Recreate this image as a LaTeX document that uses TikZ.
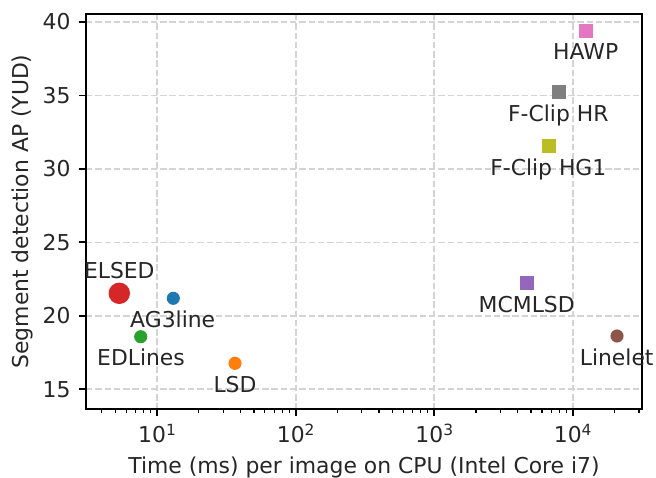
\documentclass[tikz,border=0pt]{standalone}
\usepackage{fontspec}
\setmainfont{DejaVu Sans}
\definecolor{tabblue}{HTML}{1F77B4}
\definecolor{taborange}{HTML}{FF7F0E}
\definecolor{tabgreen}{HTML}{2CA02C}
\definecolor{tabred}{HTML}{D62728}
\definecolor{tabpurple}{HTML}{9467BD}
\definecolor{tabbrown}{HTML}{8C564B}
\definecolor{tabpink}{HTML}{E377C2}
\definecolor{tabgray}{HTML}{7F7F7F}
\definecolor{tabolive}{HTML}{BCBD22}
\definecolor{gridc}{HTML}{D4D4D4}
\begin{document}
\begin{tikzpicture}[x=0.48pt,y=-0.48pt,
  font=\fontsize{10.5}{12.6}\selectfont,
  gridline/.style={draw=gridc,line width=0.8pt,dash pattern=on 3.1pt off 1.35pt},
  frame/.style={draw=black,line width=0.85pt},
  majtick/.style={draw=black,line width=0.85pt},
  mintick/.style={draw=black,line width=0.6pt},
  dot/.style={circle,inner sep=0pt,minimum size=6.3pt,draw=none,fill=#1},
  bigdot/.style={circle,inner sep=0pt,minimum size=10.3pt,draw=none,fill=#1},
  sq/.style={rectangle,inner sep=0pt,minimum size=6.7pt,draw=none,fill=#1},
  lbl/.style={anchor=base,inner sep=0pt,text=black!85},
  ylbl/.style={anchor=base east,inner sep=0pt,text=black!85},
  xlbl/.style={anchor=base,inner sep=0pt,text=black!85}
]
\useasboundingbox (0,0) rectangle (656,478);
% grid
\foreach \xx in {157,295.7,434.3,572.7}{\draw[gridline] (\xx,14) -- (\xx,409);}
\foreach \yy in {22,95.45,168.9,242.35,315.8,389.25}{\draw[gridline] (86,\yy) -- (642,\yy);}
% frame
\coordinate (tl) at (86,14);
\coordinate (br) at (642,409);
\draw[frame] (tl) rectangle (br);
% y ticks
\foreach \yy/\v in {22/40,95.45/35,168.9/30,242.35/25,315.8/20,389.25/15}{
  \draw[majtick] (86,\yy) -- ++(-7.3,0);
  \node[ylbl] at (71,\yy+7.8) {\v};
}
% x major ticks
\foreach \xx/\e in {157/1,295.7/2,434.3/3,572.7/4}{
  \draw[majtick] (\xx,409) -- ++(0,7.3);
  \node[xlbl] at (\xx,442.7) {10\raisebox{3.5pt}{\fontsize{7.4}{7.4}\selectfont\e}};
}
% x minor ticks
\foreach \d in {0,1,2,3,4}{\foreach \m in {2,...,9}{
  \pgfmathsetmacro\xx{157+138.6*(\d-1+log10(\m))}
  \pgfmathtruncatemacro\ok{(\xx>86)*(\xx<642)}
  \ifnum\ok=1 \draw[mintick] (\xx,409) -- ++(0,4.2); \fi
}}
% axis labels
\node[rotate=90,inner sep=0pt,text=black!85] (ylab) at (22,211.5) {Segment detection AP (YUD)};
\node[inner sep=0pt,text=black!85] (xlab) at (364,467) {Time (ms) per image on CPU (Intel Core i7)};
% data
\node[bigdot=tabred] (elsed) at (119.3,293.3) {};
\node[dot=tabblue] (ag3) at (173.3,298.3) {};
\node[dot=tabgreen] (edl) at (140.7,336.7) {};
\node[dot=taborange] (lsd) at (235,363.3) {};
\node[sq=tabpink] (hawp) at (585.7,30.7) {};
\node[sq=tabgray] (fchr) at (559,92) {};
\node[sq=tabolive] (fchg) at (549.3,145.7) {};
\node[sq=tabpurple] (mcm) at (527,283.3) {};
\node[dot=tabbrown] (linelet) at (617,336) {};
% labels
\node[lbl] (elsedl) at (119.3,278.3) {ELSED};
\node[lbl] (ag3l) at (172.7,327.3) {AG3line};
\node[lbl] (edll) at (141,365.7) {EDLines};
\node[lbl] (lsdl) at (235,392.7) {LSD};
\node[lbl] (hawpl) at (585.7,59.3) {HAWP};
\node[lbl] (fchrl) at (558.3,121.7) {F-Clip HR};
\node[lbl] (fchgl) at (548.3,175.7) {F-Clip HG1};
\node[lbl] (mcml) at (526.7,312.7) {MCMLSD};
\node[lbl] (lineletl) at (616.7,365) {Linelet};
\end{tikzpicture}
\end{document}
